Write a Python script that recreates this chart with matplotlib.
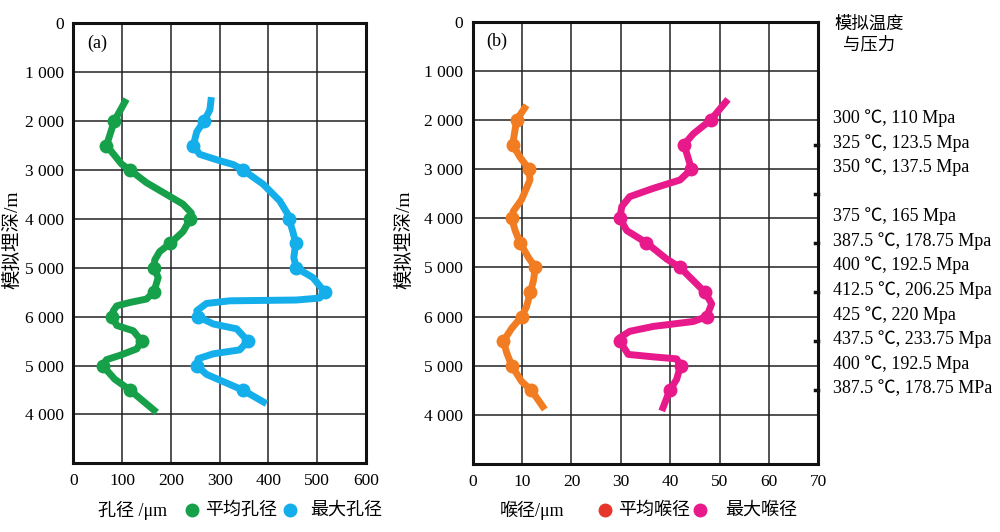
import matplotlib
matplotlib.use('Agg')
import matplotlib.pyplot as plt
from matplotlib.lines import Line2D
from matplotlib.transforms import blended_transform_factory

plt.rcParams['font.family'] = ['Liberation Serif', 'Noto Sans CJK SC']

# depth axis (the original figure labels the last two lines 5 000 / 4 000)
depth_ticks = [0, 1000, 2000, 3000, 4000, 5000, 6000, 7000, 8000]
depth_labels = ['0', '1 000', '2 000', '3 000', '4 000', '5 000', '6 000', '5 000', '4 000']

# measured points
pt_depth = [2000, 2500, 3000, 4000, 4500, 5000, 5500, 6000, 6500, 7000, 7500]
pore_mean = [84, 68, 116, 240, 199, 165, 165, 80, 140, 60, 116]
pore_max = [268, 246, 348, 442, 456, 457, 515, 256, 358, 253, 347]
throat_mean = [8.9, 8.1, 11.4, 7.9, 9.6, 12.7, 11.7, 9.9, 6.2, 7.9, 11.9]
throat_max = [48.2, 42.8, 44.3, 29.8, 35.2, 42.0, 47.0, 47.4, 29.8, 42.1, 39.9]

# curves
pm_depth = [1550, 2000, 2500, 2670, 2880, 3000, 3260, 3500, 3700, 3880, 4000, 4260, 4500, 4670,
            4840, 5000, 5200, 5500, 5640, 5710, 5780, 5880, 6000, 6180, 6290, 6500, 6660, 6790,
            6880, 7000, 7280, 7500, 7960]
pm_curve = [109, 84, 68, 82, 99, 116, 150, 191, 225, 242, 240, 225, 199, 177,
            167, 165, 174, 165, 150, 116, 89, 82, 80, 89, 123, 140, 130, 96,
            68, 60, 85, 116, 171]

px_depth = [1510, 1770, 2000, 2220, 2500, 2680, 2810, 2890, 3000, 3290, 3630, 3910, 4000, 4260,
            4500, 4790, 5000, 5200, 5490, 5620, 5660, 5676, 5730, 5880, 6000, 6150, 6250, 6500,
            6680, 6760, 6860, 7000, 7180, 7500, 7780]
px_curve = [283, 280, 268, 253, 246, 259, 300, 328, 348, 389, 423, 440, 442, 450,
            456, 452, 457, 491, 515, 505, 457, 321, 273, 253, 256, 287, 335, 358,
            341, 287, 256, 253, 273, 347, 396]

tm_depth = [1700, 2000, 2500, 2760, 3000, 3220, 3620, 3860, 4000, 4250, 4500, 4800, 5000,
            5270, 5500, 5800, 6000, 6240, 6500, 6740, 7000, 7320, 7500, 7890]
tm_curve = [10.9, 8.9, 8.1, 9.6, 11.4, 11.6, 9.9, 8.2, 7.9, 8.6, 9.6, 11.3, 12.7,
            12.3, 11.7, 10.9, 9.9, 7.9, 6.2, 6.9, 7.9, 9.9, 11.9, 14.6]

tx_depth = [1580, 2000, 2280, 2500, 2760, 3000, 3220, 3390, 3560, 3760, 4000, 4250, 4500, 4830,
            5000, 5270, 5500, 5740, 6000, 6100, 6200, 6300, 6430, 6500, 6770, 6820, 6860, 7000,
            7280, 7500, 7920]
tx_curve = [51.7, 48.2, 44.7, 42.8, 43.6, 44.3, 42.0, 36.6, 31.8, 30.2, 29.8, 31.2, 35.2, 39.3,
            42.0, 44.7, 47.0, 48.4, 47.4, 44.7, 36.6, 31.8, 29.8, 29.8, 31.5, 36.6, 41.3, 42.1,
            41.3, 39.9, 38.3]

# temperature / pressure notes on the right
tp_depth = [2000, 2500, 3000, 4000, 4500, 5000, 5500, 6000, 6500, 7000, 7500]
tp_labels = ['300 ℃, 110 Mpa', '325 ℃, 123.5 Mpa', '350 ℃, 137.5 Mpa', '375 ℃, 165 Mpa',
             '387.5 ℃, 178.75 Mpa', '400 ℃, 192.5 Mpa', '412.5 ℃, 206.25 Mpa', '425 ℃, 220 Mpa',
             '437.5 ℃, 233.75 Mpa', '400 ℃, 192.5 Mpa', '387.5 ℃, 178.75 MPa']
side_ticks = [2500, 3500, 4500, 5500, 6500, 7500]

green = '#17a04a'
blue = '#14aeea'
orange = '#f27c21'
pink = '#e8198b'
red = '#e8352a'

fig = plt.figure(figsize=(10, 5.32), dpi=100)
ax1 = fig.add_axes([0.0733, 0.1291, 0.2927, 0.8271])
ax2 = fig.add_axes([0.4727, 0.1278, 0.3456, 0.8314])


def style(ax, xmax, xstep):
    ax.set_xlim(0, xmax)
    ax.set_ylim(9000, 0)
    ax.set_xticks(range(0, xmax + 1, xstep))
    ax.set_yticks(depth_ticks)
    ax.set_yticklabels(depth_labels)
    ax.grid(True, color='#222222', linewidth=1.1)
    ax.set_axisbelow(True)
    ax.tick_params(length=0, labelsize=12.5, pad=7)
    for s in ax.spines.values():
        s.set_linewidth(2.2)
        s.set_color('#111111')


style(ax1, 600, 100)
style(ax2, 70, 10)

lw = 5
ms = 9
kw = dict(lw=lw, solid_joinstyle='round', solid_capstyle='butt')
ax1.plot(pm_curve, pm_depth, color=green, **kw)
ax1.plot(pore_mean, pt_depth, 'o', color=green, ms=ms)
ax1.plot(px_curve, px_depth, color=blue, **kw)
ax1.plot(pore_max, pt_depth, 'o', color=blue, ms=ms)

ax2.plot(tm_curve, tm_depth, color=orange, **kw)
ax2.plot(throat_mean, pt_depth, 'o', color=orange, ms=ms)
ax2.plot(tx_curve, tx_depth, color=pink, **kw)
ax2.plot(throat_max, pt_depth, 'o', color=pink, ms=ms)

ax1.text(28, 400, '(a)', fontsize=13, va='center')
ax2.text(2.8, 400, '(b)', fontsize=13, va='center')

# small marks on the right edge of panel b
for d in side_ticks:
    ax2.plot([69.3, 70], [d, d], color='#111111', lw=2.5, clip_on=False)

fig.text(0.012, 1 - 240 / 532, '模拟埋深/m', rotation=90, ha='center', va='center', fontsize=14)
fig.text(0.404, 1 - 240 / 532, '模拟埋深/m', rotation=90, ha='center', va='center', fontsize=14)

tr = blended_transform_factory(fig.transFigure, ax2.transData)
for d, t in zip(tp_depth, tp_labels):
    ax2.text(0.833, d - 40, t, transform=tr, ha='left', va='center', fontsize=13)
fig.text(0.869, 0.953, '模拟温度', ha='center', va='center', fontsize=12.5)
fig.text(0.869, 0.915, '与压力', ha='center', va='center', fontsize=12.5)

# bottom legends
ly = 1 - 510 / 532
fig.text(0.098, ly, '孔径 /μm', ha='left', va='center', fontsize=13)
fig.text(0.205, ly, '平均孔径', ha='left', va='center', fontsize=13)
fig.text(0.310, ly, '最大孔径', ha='left', va='center', fontsize=13)
fig.text(0.500, ly, '喉径/μm', ha='left', va='center', fontsize=13)
fig.text(0.618, ly, '平均喉径', ha='left', va='center', fontsize=13)
fig.text(0.725, ly, '最大喉径', ha='left', va='center', fontsize=13)
for x, c in [(0.192, green), (0.290, blue), (0.605, red), (0.700, pink)]:
    fig.add_artist(Line2D([x], [ly], marker='o', ms=9, color=c, transform=fig.transFigure))

fig.savefig('out.png', dpi=100)
